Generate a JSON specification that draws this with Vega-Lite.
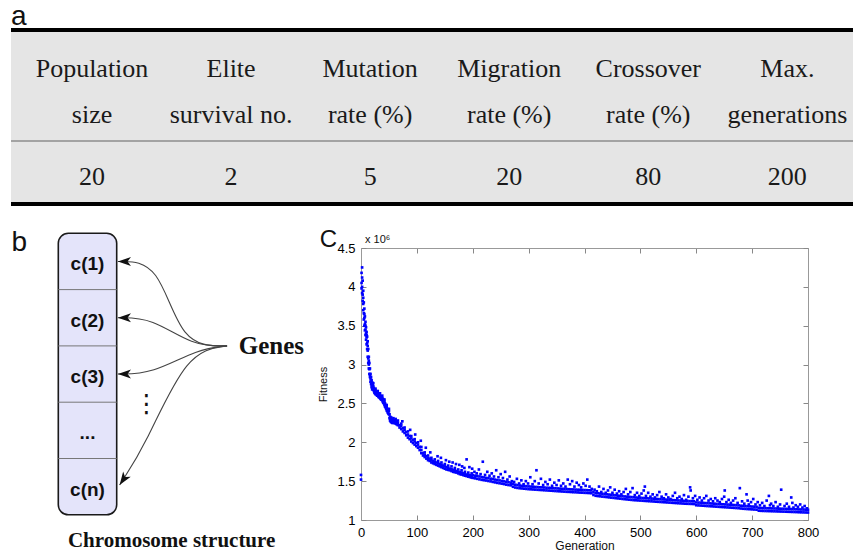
{
  "$schema": "https://vega.github.io/schema/vega-lite/v6.json",
  "background": "white",
  "width": 853,
  "height": 552,
  "autosize": {"type": "none"},
  "padding": 0,
  "config": {
    "view": {"stroke": null},
    "axis": {"grid": false, "labelFont": "Liberation Sans", "titleFont": "Liberation Sans"}
  },
  "datasets": {
    "params": [
      {"param": "Population size", "line1": "Population", "line2": "size", "value": 20},
      {"param": "Elite survival no.", "line1": "Elite", "line2": "survival no.", "value": 2},
      {"param": "Mutation rate (%)", "line1": "Mutation", "line2": "rate (%)", "value": 5},
      {"param": "Migration rate (%)", "line1": "Migration", "line2": "rate (%)", "value": 20},
      {"param": "Crossover rate (%)", "line1": "Crossover", "line2": "rate (%)", "value": 80},
      {"param": "Max. generations", "line1": "Max.", "line2": "generations", "value": 200}
    ],
    "cells": [
      {"gene": "c(1)", "slot": 1},
      {"gene": "c(2)", "slot": 2},
      {"gene": "c(3)", "slot": 3},
      {"gene": "...", "slot": 4},
      {"gene": "c(n)", "slot": 5}
    ],
    "dividers": [
      {"boundary": 1.5}, {"boundary": 2.5}, {"boundary": 3.5}, {"boundary": 4.5}
    ],
    "arrows": [
      {"gene": "c(1)", "k": 0, "x": 2.89, "y": 2.5}, {"gene": "c(1)", "k": 1, "x": 2.1, "y": 2.5}, {"gene": "c(1)", "k": 2, "x": 1.72, "y": 1.0}, {"gene": "c(1)", "k": 3, "x": 1.02, "y": 1.0},
      {"gene": "c(2)", "k": 0, "x": 2.89, "y": 2.5}, {"gene": "c(2)", "k": 1, "x": 2.3, "y": 2.5}, {"gene": "c(2)", "k": 2, "x": 1.6, "y": 2.0}, {"gene": "c(2)", "k": 3, "x": 1.02, "y": 2.0},
      {"gene": "c(3)", "k": 0, "x": 2.89, "y": 2.5}, {"gene": "c(3)", "k": 1, "x": 2.4, "y": 2.55}, {"gene": "c(3)", "k": 2, "x": 1.6, "y": 3.0}, {"gene": "c(3)", "k": 3, "x": 1.02, "y": 3.0},
      {"gene": "c(n)", "k": 0, "x": 2.89, "y": 2.5}, {"gene": "c(n)", "k": 1, "x": 2.2, "y": 2.6}, {"gene": "c(n)", "k": 2, "x": 1.5, "y": 4.25}, {"gene": "c(n)", "k": 3, "x": 1.05, "y": 4.97}
    ],
    "fitness": [
      {"g":0,"f":1.52},{"g":0,"f":1.58},
      {"g":1,"f":4.18},{"g":1,"f":4.05},{"g":1,"f":3.98},
      {"g":2,"f":4.25},{"g":2,"f":4.12},{"g":2,"f":3.92},{"g":2,"f":4.0},
      {"g":3,"f":4.08},{"g":3,"f":3.9},{"g":3,"f":3.82},
      {"g":4,"f":3.95},{"g":4,"f":3.78},{"g":4,"f":3.7},{"g":4,"f":3.86},
      {"g":5,"f":3.8},{"g":5,"f":3.66},{"g":5,"f":3.58},
      {"g":6,"f":3.72},{"g":6,"f":3.6},{"g":6,"f":3.5},{"g":6,"f":3.65},
      {"g":7,"f":3.62},{"g":7,"f":3.52},{"g":7,"f":3.44},
      {"g":8,"f":3.55},{"g":8,"f":3.45},{"g":8,"f":3.38},{"g":8,"f":3.5},
      {"g":9,"f":3.48},{"g":9,"f":3.4},{"g":9,"f":3.32},
      {"g":10,"f":3.42},{"g":10,"f":3.35},{"g":10,"f":3.26},{"g":10,"f":3.38},
      {"g":11,"f":3.36},{"g":11,"f":3.28},{"g":11,"f":3.2},
      {"g":12,"f":3.3},{"g":12,"f":3.18},{"g":12,"f":3.1},{"g":12,"f":3.24},
      {"g":13,"f":3.2},{"g":13,"f":3.08},{"g":13,"f":3.02},
      {"g":14,"f":3.1},{"g":14,"f":3.0},{"g":14,"f":2.95},{"g":14,"f":3.05},
      {"g":15,"f":3.02},{"g":15,"f":2.94},{"g":15,"f":2.88},
      {"g":16,"f":2.95},{"g":16,"f":2.87},{"g":16,"f":2.84},
      {"g":17,"f":2.88},{"g":17,"f":2.82},{"g":17,"f":2.78},
      {"g":18,"f":2.84},{"g":18,"f":2.78},{"g":18,"f":2.75},
      {"g":19,"f":2.8},{"g":19,"f":2.74},{"g":19,"f":2.71},
      {"g":20,"f":2.77},{"g":20,"f":2.71},{"g":20,"f":2.68},
      {"g":21,"f":2.74},{"g":21,"f":2.69},
      {"g":22,"f":2.72},{"g":22,"f":2.68},{"g":22,"f":2.76},
      {"g":23,"f":2.7},{"g":23,"f":2.66},
      {"g":24,"f":2.68},{"g":24,"f":2.64},
      {"g":25,"f":2.67},{"g":25,"f":2.63},
      {"g":26,"f":2.66},{"g":26,"f":2.62},{"g":26,"f":2.69},
      {"g":27,"f":2.65},{"g":27,"f":2.62},
      {"g":28,"f":2.64},{"g":28,"f":2.61},
      {"g":29,"f":2.63},{"g":29,"f":2.6},
      {"g":30,"f":2.63},{"g":30,"f":2.6},{"g":30,"f":2.66},
      {"g":31,"f":2.62},{"g":31,"f":2.59},
      {"g":32,"f":2.62},{"g":32,"f":2.58},
      {"g":33,"f":2.61},{"g":33,"f":2.58},
      {"g":34,"f":2.6},{"g":34,"f":2.57},{"g":34,"f":2.63},
      {"g":35,"f":2.59},{"g":35,"f":2.56},
      {"g":36,"f":2.58},{"g":36,"f":2.55},
      {"g":37,"f":2.58},{"g":37,"f":2.55},
      {"g":38,"f":2.57},{"g":38,"f":2.54},{"g":38,"f":2.6},
      {"g":39,"f":2.56},{"g":39,"f":2.52},
      {"g":40,"f":2.55},{"g":40,"f":2.51},
      {"g":41,"f":2.53},{"g":41,"f":2.5},
      {"g":42,"f":2.52},{"g":42,"f":2.48},{"g":42,"f":2.55},
      {"g":43,"f":2.5},{"g":43,"f":2.46},
      {"g":44,"f":2.48},{"g":44,"f":2.45},
      {"g":45,"f":2.46},{"g":45,"f":2.43},
      {"g":46,"f":2.45},{"g":46,"f":2.41},{"g":46,"f":2.48},
      {"g":47,"f":2.43},{"g":47,"f":2.4},
      {"g":48,"f":2.42},{"g":48,"f":2.38},
      {"g":49,"f":2.41},{"g":49,"f":2.37},
      {"g":50,"f":2.4},{"g":50,"f":2.36},{"g":50,"f":2.43},
      {"g":51,"f":2.36},{"g":51,"f":2.31},
      {"g":52,"f":2.33},{"g":52,"f":2.28},
      {"g":53,"f":2.3},{"g":53,"f":2.27},
      {"g":54,"f":2.29},{"g":54,"f":2.26},{"g":54,"f":2.32},
      {"g":55,"f":2.29},{"g":55,"f":2.26},
      {"g":56,"f":2.28},{"g":56,"f":2.25},
      {"g":57,"f":2.28},{"g":57,"f":2.25},
      {"g":58,"f":2.29},{"g":58,"f":2.26},{"g":58,"f":2.31},
      {"g":59,"f":2.28},{"g":59,"f":2.25},
      {"g":60,"f":2.28},{"g":60,"f":2.25},
      {"g":62,"f":2.27},{"g":62,"f":2.24},{"g":62,"f":2.3},
      {"g":64,"f":2.26},{"g":64,"f":2.23},
      {"g":66,"f":2.25},{"g":66,"f":2.22},{"g":66,"f":2.28},
      {"g":69,"f":2.22},{"g":69,"f":2.19},
      {"g":72,"f":2.21},{"g":72,"f":2.17},{"g":72,"f":2.24},
      {"g":75,"f":2.18},{"g":75,"f":2.14},
      {"g":78,"f":2.16},{"g":78,"f":2.12},{"g":78,"f":2.19},
      {"g":81,"f":2.13},{"g":81,"f":2.09},
      {"g":84,"f":2.1},{"g":84,"f":2.06},{"g":84,"f":2.14},
      {"g":87,"f":2.08},{"g":87,"f":2.04},
      {"g":90,"f":2.05},{"g":90,"f":2.01},{"g":90,"f":2.08},
      {"g":93,"f":2.03},{"g":93,"f":1.99},
      {"g":96,"f":2.01},{"g":96,"f":1.97},{"g":96,"f":2.04},
      {"g":99,"f":1.99},{"g":99,"f":1.95},
      {"g":102,"f":1.97},{"g":102,"f":1.93},{"g":102,"f":2.0},
      {"g":105,"f":1.94},{"g":105,"f":1.9},
      {"g":108,"f":1.9},{"g":108,"f":1.86},{"g":108,"f":1.94},
      {"g":111,"f":1.86},{"g":111,"f":1.83},
      {"g":114,"f":1.84},{"g":114,"f":1.81},{"g":114,"f":1.87},
      {"g":117,"f":1.82},{"g":117,"f":1.79},
      {"g":120,"f":1.8},{"g":120,"f":1.77},{"g":120,"f":1.83},
      {"g":123,"f":1.79},{"g":123,"f":1.76},
      {"g":126,"f":1.77},{"g":126,"f":1.74},{"g":126,"f":1.8},
      {"g":129,"f":1.76},{"g":129,"f":1.73},
      {"g":132,"f":1.75},{"g":132,"f":1.72},{"g":132,"f":1.78},
      {"g":135,"f":1.74},{"g":135,"f":1.71},
      {"g":138,"f":1.73},{"g":138,"f":1.7},{"g":138,"f":1.76},
      {"g":141,"f":1.72},{"g":141,"f":1.69},
      {"g":144,"f":1.71},{"g":144,"f":1.68},{"g":144,"f":1.74},
      {"g":147,"f":1.7},{"g":147,"f":1.67},
      {"g":150,"f":1.69},{"g":150,"f":1.66},{"g":150,"f":1.72},
      {"g":153,"f":1.68},{"g":153,"f":1.65},
      {"g":156,"f":1.67},{"g":156,"f":1.645},{"g":156,"f":1.7},
      {"g":159,"f":1.66},{"g":159,"f":1.64},
      {"g":162,"f":1.655},{"g":162,"f":1.63},{"g":162,"f":1.69},
      {"g":165,"f":1.645},{"g":165,"f":1.62},
      {"g":168,"f":1.64},{"g":168,"f":1.615},{"g":168,"f":1.67},
      {"g":171,"f":1.63},{"g":171,"f":1.61},
      {"g":174,"f":1.62},{"g":174,"f":1.6},{"g":174,"f":1.65},
      {"g":177,"f":1.615},{"g":177,"f":1.59},
      {"g":180,"f":1.61},{"g":180,"f":1.585},{"g":180,"f":1.64},
      {"g":183,"f":1.6},{"g":183,"f":1.578},
      {"g":186,"f":1.59},{"g":186,"f":1.57},{"g":186,"f":1.62},
      {"g":189,"f":1.585},{"g":189,"f":1.565},
      {"g":192,"f":1.58},{"g":192,"f":1.558},{"g":192,"f":1.61},
      {"g":195,"f":1.575},{"g":195,"f":1.552},
      {"g":198,"f":1.57},{"g":198,"f":1.546},{"g":198,"f":1.6},
      {"g":74,"f":2.27},{"g":88,"f":2.16},{"g":97,"f":2.1},{"g":107,"f":2.02},{"g":116,"f":1.93},{"g":124,"f":1.87},
      {"g":137,"f":1.82},{"g":143,"f":1.8},{"g":152,"f":1.77},{"g":158,"f":1.75},{"g":164,"f":1.74},{"g":170,"f":1.72},
      {"g":176,"f":1.71},{"g":181,"f":1.69},{"g":185,"f":1.67},{"g":189,"f":1.78},{"g":194,"f":1.68},{"g":199,"f":1.66},
      {"g":200,"f":1.542},{"g":200,"f":1.578},{"g":204,"f":1.536},{"g":204,"f":1.57},{"g":208,"f":1.53},{"g":208,"f":1.566},
      {"g":212,"f":1.523},{"g":212,"f":1.56},{"g":216,"f":1.517},{"g":216,"f":1.552},{"g":220,"f":1.512},{"g":220,"f":1.548},
      {"g":224,"f":1.508},{"g":224,"f":1.541},{"g":228,"f":1.502},{"g":228,"f":1.538},{"g":232,"f":1.497},{"g":232,"f":1.532},
      {"g":236,"f":1.49},{"g":236,"f":1.527},{"g":240,"f":1.484},{"g":240,"f":1.52},{"g":244,"f":1.478},{"g":244,"f":1.512},
      {"g":248,"f":1.473},{"g":248,"f":1.509},{"g":252,"f":1.468},{"g":252,"f":1.502},{"g":256,"f":1.462},{"g":256,"f":1.497},
      {"g":260,"f":1.455},{"g":260,"f":1.49},{"g":264,"f":1.45},{"g":264,"f":1.486},{"g":268,"f":1.446},{"g":268,"f":1.48},
      {"g":272,"f":1.428},{"g":272,"f":1.465},{"g":276,"f":1.418},{"g":276,"f":1.454},{"g":280,"f":1.413},{"g":280,"f":1.449},
      {"g":284,"f":1.409},{"g":284,"f":1.443},{"g":288,"f":1.406},{"g":288,"f":1.44},{"g":292,"f":1.403},{"g":292,"f":1.437},
      {"g":296,"f":1.4},{"g":296,"f":1.434},{"g":300,"f":1.397},{"g":300,"f":1.432},{"g":304,"f":1.395},{"g":304,"f":1.43},
      {"g":308,"f":1.393},{"g":308,"f":1.428},{"g":312,"f":1.391},{"g":312,"f":1.425},{"g":316,"f":1.389},{"g":316,"f":1.424},
      {"g":320,"f":1.387},{"g":320,"f":1.421},{"g":324,"f":1.385},{"g":324,"f":1.42},{"g":328,"f":1.383},{"g":328,"f":1.418},
      {"g":332,"f":1.381},{"g":332,"f":1.415},{"g":336,"f":1.379},{"g":336,"f":1.414},{"g":340,"f":1.377},{"g":340,"f":1.412},
      {"g":344,"f":1.375},{"g":344,"f":1.41},{"g":348,"f":1.373},{"g":348,"f":1.408},{"g":352,"f":1.371},{"g":352,"f":1.406},
      {"g":356,"f":1.369},{"g":356,"f":1.404},{"g":360,"f":1.367},{"g":360,"f":1.402},{"g":364,"f":1.365},{"g":364,"f":1.4},
      {"g":368,"f":1.363},{"g":368,"f":1.398},{"g":372,"f":1.362},{"g":372,"f":1.396},{"g":376,"f":1.36},{"g":376,"f":1.394},
      {"g":380,"f":1.358},{"g":380,"f":1.393},{"g":384,"f":1.357},{"g":384,"f":1.391},{"g":388,"f":1.355},{"g":388,"f":1.39},
      {"g":392,"f":1.353},{"g":392,"f":1.388},{"g":396,"f":1.352},{"g":396,"f":1.386},{"g":400,"f":1.35},{"g":400,"f":1.385},
      {"g":404,"f":1.349},{"g":404,"f":1.384},{"g":408,"f":1.347},{"g":408,"f":1.382},{"g":412,"f":1.345},{"g":412,"f":1.38},
      {"g":416,"f":1.322},{"g":416,"f":1.358},{"g":420,"f":1.312},{"g":420,"f":1.348},{"g":424,"f":1.308},{"g":424,"f":1.344},
      {"g":428,"f":1.305},{"g":428,"f":1.34},{"g":432,"f":1.301},{"g":432,"f":1.337},{"g":436,"f":1.298},{"g":436,"f":1.333},
      {"g":440,"f":1.295},{"g":440,"f":1.33},{"g":444,"f":1.291},{"g":444,"f":1.327},{"g":448,"f":1.288},{"g":448,"f":1.323},
      {"g":452,"f":1.285},{"g":452,"f":1.32},{"g":456,"f":1.281},{"g":456,"f":1.317},{"g":460,"f":1.278},{"g":460,"f":1.313},
      {"g":464,"f":1.275},{"g":464,"f":1.31},{"g":468,"f":1.271},{"g":468,"f":1.307},{"g":472,"f":1.268},{"g":472,"f":1.303},
      {"g":476,"f":1.265},{"g":476,"f":1.3},{"g":480,"f":1.262},{"g":480,"f":1.297},{"g":484,"f":1.259},{"g":484,"f":1.295},
      {"g":488,"f":1.256},{"g":488,"f":1.292},{"g":492,"f":1.254},{"g":492,"f":1.289},{"g":496,"f":1.252},{"g":496,"f":1.287},
      {"g":500,"f":1.25},{"g":500,"f":1.285},{"g":504,"f":1.248},{"g":504,"f":1.283},{"g":508,"f":1.246},{"g":508,"f":1.281},
      {"g":512,"f":1.244},{"g":512,"f":1.279},{"g":516,"f":1.242},{"g":516,"f":1.277},{"g":520,"f":1.24},{"g":520,"f":1.275},
      {"g":524,"f":1.238},{"g":524,"f":1.273},{"g":528,"f":1.236},{"g":528,"f":1.271},{"g":532,"f":1.234},{"g":532,"f":1.269},
      {"g":536,"f":1.232},{"g":536,"f":1.267},{"g":540,"f":1.23},{"g":540,"f":1.265},{"g":544,"f":1.228},{"g":544,"f":1.263},
      {"g":548,"f":1.226},{"g":548,"f":1.261},{"g":552,"f":1.224},{"g":552,"f":1.259},{"g":556,"f":1.222},{"g":556,"f":1.257},
      {"g":560,"f":1.22},{"g":560,"f":1.255},{"g":564,"f":1.218},{"g":564,"f":1.253},{"g":568,"f":1.216},{"g":568,"f":1.251},
      {"g":572,"f":1.214},{"g":572,"f":1.249},{"g":576,"f":1.212},{"g":576,"f":1.247},{"g":580,"f":1.21},{"g":580,"f":1.245},
      {"g":584,"f":1.209},{"g":584,"f":1.244},{"g":588,"f":1.208},{"g":588,"f":1.243},{"g":592,"f":1.207},{"g":592,"f":1.242},
      {"g":596,"f":1.205},{"g":596,"f":1.24},{"g":600,"f":1.19},{"g":600,"f":1.226},{"g":604,"f":1.188},{"g":604,"f":1.224},
      {"g":608,"f":1.186},{"g":608,"f":1.222},{"g":612,"f":1.184},{"g":612,"f":1.22},{"g":616,"f":1.182},{"g":616,"f":1.218},
      {"g":620,"f":1.18},{"g":620,"f":1.216},{"g":624,"f":1.178},{"g":624,"f":1.214},{"g":628,"f":1.176},{"g":628,"f":1.212},
      {"g":632,"f":1.174},{"g":632,"f":1.21},{"g":636,"f":1.172},{"g":636,"f":1.208},{"g":640,"f":1.17},{"g":640,"f":1.206},
      {"g":644,"f":1.168},{"g":644,"f":1.204},{"g":648,"f":1.166},{"g":648,"f":1.202},{"g":652,"f":1.164},{"g":652,"f":1.2},
      {"g":656,"f":1.162},{"g":656,"f":1.198},{"g":660,"f":1.16},{"g":660,"f":1.196},{"g":664,"f":1.158},{"g":664,"f":1.194},
      {"g":668,"f":1.156},{"g":668,"f":1.192},{"g":672,"f":1.154},{"g":672,"f":1.19},{"g":676,"f":1.152},{"g":676,"f":1.188},
      {"g":680,"f":1.148},{"g":680,"f":1.184},{"g":684,"f":1.145},{"g":684,"f":1.181},{"g":688,"f":1.143},{"g":688,"f":1.179},
      {"g":692,"f":1.141},{"g":692,"f":1.177},{"g":696,"f":1.139},{"g":696,"f":1.175},{"g":700,"f":1.137},{"g":700,"f":1.173},
      {"g":704,"f":1.135},{"g":704,"f":1.171},{"g":708,"f":1.133},{"g":708,"f":1.169},{"g":712,"f":1.12},{"g":712,"f":1.156},
      {"g":716,"f":1.118},{"g":716,"f":1.154},{"g":720,"f":1.117},{"g":720,"f":1.153},{"g":724,"f":1.116},{"g":724,"f":1.152},
      {"g":728,"f":1.115},{"g":728,"f":1.151},{"g":732,"f":1.114},{"g":732,"f":1.15},{"g":736,"f":1.113},{"g":736,"f":1.149},
      {"g":740,"f":1.112},{"g":740,"f":1.148},{"g":744,"f":1.111},{"g":744,"f":1.147},{"g":748,"f":1.11},{"g":748,"f":1.146},
      {"g":752,"f":1.109},{"g":752,"f":1.145},{"g":756,"f":1.108},{"g":756,"f":1.144},{"g":760,"f":1.107},{"g":760,"f":1.143},
      {"g":764,"f":1.106},{"g":764,"f":1.142},{"g":768,"f":1.105},{"g":768,"f":1.141},{"g":772,"f":1.104},{"g":772,"f":1.14},
      {"g":776,"f":1.103},{"g":776,"f":1.139},{"g":780,"f":1.102},{"g":780,"f":1.138},{"g":784,"f":1.1},{"g":784,"f":1.136},
      {"g":788,"f":1.099},{"g":788,"f":1.135},{"g":792,"f":1.098},{"g":792,"f":1.134},{"g":796,"f":1.097},{"g":796,"f":1.133},
      {"g":800,"f":1.096},{"g":800,"f":1.132},
      {"g":203,"f":1.62},{"g":207,"f":1.6},{"g":211,"f":1.65},{"g":214,"f":1.59},{"g":218,"f":1.75},{"g":222,"f":1.58},
      {"g":226,"f":1.62},{"g":230,"f":1.57},{"g":234,"f":1.6},{"g":238,"f":1.56},{"g":242,"f":1.64},{"g":246,"f":1.55},
      {"g":250,"f":1.59},{"g":254,"f":1.54},{"g":258,"f":1.62},{"g":262,"f":1.52},{"g":266,"f":1.56},{"g":270,"f":1.5},
      {"g":274,"f":1.49},{"g":279,"f":1.53},{"g":283,"f":1.47},{"g":287,"f":1.51},{"g":291,"f":1.46},{"g":295,"f":1.5},
      {"g":299,"f":1.47},{"g":303,"f":1.55},{"g":307,"f":1.46},{"g":311,"f":1.5},{"g":314,"f":1.64},{"g":318,"f":1.47},
      {"g":322,"f":1.53},{"g":326,"f":1.45},{"g":330,"f":1.49},{"g":334,"f":1.46},{"g":338,"f":1.52},{"g":342,"f":1.44},
      {"g":346,"f":1.48},{"g":350,"f":1.45},{"g":354,"f":1.51},{"g":358,"f":1.44},{"g":362,"f":1.47},{"g":366,"f":1.43},
      {"g":370,"f":1.52},{"g":374,"f":1.46},{"g":378,"f":1.5},{"g":382,"f":1.43},{"g":386,"f":1.48},{"g":390,"f":1.45},
      {"g":394,"f":1.42},{"g":398,"f":1.47},{"g":402,"f":1.44},{"g":405,"f":1.52},{"g":409,"f":1.43},{"g":413,"f":1.4},
      {"g":418,"f":1.39},{"g":422,"f":1.37},{"g":426,"f":1.43},{"g":430,"f":1.36},{"g":434,"f":1.4},{"g":438,"f":1.35},
      {"g":442,"f":1.38},{"g":446,"f":1.42},{"g":450,"f":1.35},{"g":454,"f":1.39},{"g":458,"f":1.34},{"g":462,"f":1.37},
      {"g":466,"f":1.33},{"g":470,"f":1.36},{"g":474,"f":1.4},{"g":478,"f":1.33},{"g":482,"f":1.36},{"g":486,"f":1.41},
      {"g":490,"f":1.32},{"g":494,"f":1.35},{"g":498,"f":1.31},{"g":502,"f":1.34},{"g":506,"f":1.38},{"g":508,"f":1.43},
      {"g":510,"f":1.31},{"g":514,"f":1.35},{"g":518,"f":1.3},{"g":522,"f":1.33},{"g":526,"f":1.29},{"g":530,"f":1.32},
      {"g":534,"f":1.36},{"g":538,"f":1.3},{"g":542,"f":1.28},{"g":546,"f":1.33},{"g":550,"f":1.29},{"g":554,"f":1.27},
      {"g":558,"f":1.31},{"g":562,"f":1.35},{"g":566,"f":1.28},{"g":570,"f":1.3},{"g":574,"f":1.27},{"g":578,"f":1.32},
      {"g":582,"f":1.26},{"g":586,"f":1.3},{"g":589,"f":1.42},{"g":590,"f":1.38},{"g":594,"f":1.28},{"g":598,"f":1.31},
      {"g":602,"f":1.26},{"g":606,"f":1.29},{"g":610,"f":1.25},{"g":614,"f":1.28},{"g":618,"f":1.31},{"g":622,"f":1.25},
      {"g":626,"f":1.27},{"g":630,"f":1.24},{"g":634,"f":1.28},{"g":638,"f":1.25},{"g":642,"f":1.23},{"g":646,"f":1.27},
      {"g":650,"f":1.3},{"g":651,"f":1.38},{"g":654,"f":1.23},{"g":658,"f":1.26},{"g":662,"f":1.22},{"g":666,"f":1.25},
      {"g":670,"f":1.28},{"g":674,"f":1.22},{"g":678,"f":1.41},{"g":682,"f":1.24},{"g":686,"f":1.21},{"g":690,"f":1.33},
      {"g":692,"f":1.25},{"g":694,"f":1.2},{"g":698,"f":1.23},{"g":702,"f":1.27},{"g":706,"f":1.2},{"g":710,"f":1.23},
      {"g":714,"f":1.19},{"g":718,"f":1.22},{"g":722,"f":1.18},{"g":726,"f":1.25},{"g":730,"f":1.31},{"g":732,"f":1.19},
      {"g":734,"f":1.21},{"g":738,"f":1.18},{"g":742,"f":1.23},{"g":746,"f":1.17},{"g":750,"f":1.2},{"g":752,"f":1.39},
      {"g":758,"f":1.18},{"g":762,"f":1.21},{"g":766,"f":1.17},{"g":770,"f":1.29},{"g":772,"f":1.22},{"g":774,"f":1.16},
      {"g":778,"f":1.19},{"g":782,"f":1.17},{"g":786,"f":1.2},{"g":790,"f":1.16},{"g":794,"f":1.18},{"g":798,"f":1.15}
    ]
  },
  "layer": [
    {
      "layer": [
        {
          "data": {"values": [{"part": "table"}]},
          "mark": {"type": "rect", "fill": "#e5e5e5"},
          "encoding": {
            "x": {"datum": 0, "type": "quantitative", "scale": {"domain": [0, 1], "range": [11, 853]}, "axis": null},
            "x2": {"datum": 1},
            "y": {"datum": 0, "type": "quantitative", "scale": {"domain": [0, 3.78], "range": [30, 204], "nice": false, "zero": false}, "axis": null},
            "y2": {"datum": 3.78}
          }
        },
        {
          "data": {"values": [{"part": "top rule"}]},
          "mark": {"type": "rule", "color": "#000", "strokeWidth": 4},
          "encoding": {
            "x": {"datum": 0, "type": "quantitative", "scale": {"domain": [0, 1], "range": [11, 853]}, "axis": null},
            "x2": {"datum": 1},
            "y": {"datum": 0, "type": "quantitative", "axis": null}
          }
        },
        {
          "data": {"values": [{"part": "header rule"}]},
          "mark": {"type": "rule", "color": "#8c8c8c", "strokeWidth": 1.5},
          "encoding": {
            "x": {"datum": 0, "type": "quantitative", "scale": {"domain": [0, 1], "range": [11, 853]}, "axis": null},
            "x2": {"datum": 1},
            "y": {"datum": 2.41, "type": "quantitative", "axis": null}
          }
        },
        {
          "data": {"values": [{"part": "bottom rule"}]},
          "mark": {"type": "rule", "color": "#000", "strokeWidth": 4},
          "encoding": {
            "x": {"datum": 0, "type": "quantitative", "scale": {"domain": [0, 1], "range": [11, 853]}, "axis": null},
            "x2": {"datum": 1},
            "y": {"datum": 3.78, "type": "quantitative", "axis": null}
          }
        },
        {
          "data": {"values": [{"label": "a"}]},
          "mark": {"type": "text", "font": "Liberation Sans", "fontSize": 28, "align": "left", "baseline": "alphabetic", "color": "#111"},
          "encoding": {
            "x": {"datum": 0, "type": "quantitative", "scale": {"domain": [0, 1], "range": [11, 853]}, "axis": null},
            "y": {"datum": -0.11, "type": "quantitative", "axis": null},
            "text": {"field": "label"}
          }
        },
        {
          "data": {"name": "params"},
          "mark": {"type": "text", "font": "Liberation Serif", "fontSize": 26, "baseline": "alphabetic", "color": "#1a1a1a"},
          "encoding": {
            "x": {"field": "param", "type": "nominal", "sort": null, "scale": {"type": "point", "range": [11, 851], "padding": 0.52, "align": 0.56}, "axis": null},
            "y": {"datum": 1.02, "type": "quantitative", "axis": null},
            "text": {"field": "line1"}
          }
        },
        {
          "data": {"name": "params"},
          "mark": {"type": "text", "font": "Liberation Serif", "fontSize": 26, "baseline": "alphabetic", "color": "#1a1a1a"},
          "encoding": {
            "x": {"field": "param", "type": "nominal", "sort": null, "scale": {"type": "point", "range": [11, 851], "padding": 0.52, "align": 0.56}, "axis": null},
            "y": {"datum": 2.02, "type": "quantitative", "axis": null},
            "text": {"field": "line2"}
          }
        },
        {
          "data": {"name": "params"},
          "mark": {"type": "text", "font": "Liberation Serif", "fontSize": 26, "baseline": "alphabetic", "color": "#1a1a1a"},
          "encoding": {
            "x": {"field": "param", "type": "nominal", "sort": null, "scale": {"type": "point", "range": [11, 851], "padding": 0.52, "align": 0.56}, "axis": null},
            "y": {"datum": 3.37, "type": "quantitative", "axis": null},
            "text": {"field": "value", "type": "quantitative"}
          }
        }
      ],
      "resolve": {"scale": {"x": "independent"}}
    },
    {
      "layer": [
        {
          "data": {"values": [{"part": "chromosome"}]},
          "mark": {"type": "rect", "fill": "#e4e4fa", "stroke": "#1a1a1a", "strokeWidth": 1.6, "cornerRadius": 10},
          "encoding": {
            "x": {"datum": 0, "type": "quantitative", "scale": {"domain": [0, 1], "range": [58.3, 116.7], "nice": false, "zero": false}, "axis": null},
            "x2": {"datum": 1},
            "y": {"datum": 0.5, "type": "quantitative", "scale": {"domain": [0.5, 5.5], "range": [233.3, 514.8], "nice": false, "zero": false}, "axis": null},
            "y2": {"datum": 5.5}
          }
        },
        {
          "data": {"name": "dividers"},
          "mark": {"type": "rule", "color": "#777", "strokeWidth": 1},
          "encoding": {
            "x": {"datum": 0, "type": "quantitative", "axis": null},
            "x2": {"datum": 1},
            "y": {"field": "boundary", "type": "quantitative", "axis": null}
          }
        },
        {
          "data": {"name": "cells"},
          "mark": {"type": "text", "font": "Liberation Sans", "fontWeight": "bold", "fontSize": 19, "baseline": "middle", "align": "center", "dy": 3, "color": "#111"},
          "encoding": {
            "x": {"datum": 0.5, "type": "quantitative", "axis": null},
            "y": {"field": "slot", "type": "quantitative", "axis": null},
            "text": {"field": "gene"}
          }
        },
        {
          "data": {"name": "arrows"},
          "mark": {"type": "line", "interpolate": "basis", "color": "#444", "strokeWidth": 1.1},
          "encoding": {
            "x": {"field": "x", "type": "quantitative", "axis": null},
            "y": {"field": "y", "type": "quantitative", "axis": null},
            "detail": {"field": "gene"},
            "order": {"field": "k"}
          }
        },
        {
          "data": {"name": "arrows"},
          "transform": [{"filter": "datum.k === 3"}],
          "mark": {"type": "point", "shape": "M0,0L2.3,-0.8L1.7,0L2.3,0.8Z", "filled": true, "color": "#111", "opacity": 1, "size": 130},
          "encoding": {
            "x": {"field": "x", "type": "quantitative", "axis": null},
            "y": {"field": "y", "type": "quantitative", "axis": null},
            "angle": {"condition": {"test": "datum.gene === 'c(n)'", "value": -56}, "value": 0}
          }
        },
        {
          "data": {"values": [{"label": "Genes"}]},
          "mark": {"type": "text", "font": "Liberation Serif", "fontWeight": "bold", "fontSize": 25, "align": "left", "baseline": "middle", "color": "#111"},
          "encoding": {
            "x": {"datum": 3.09, "type": "quantitative", "axis": null},
            "y": {"datum": 2.5, "type": "quantitative", "axis": null},
            "text": {"field": "label"}
          }
        },
        {
          "data": {"values": [{"label": "⋮"}]},
          "mark": {"type": "text", "font": "DejaVu Sans", "fontWeight": "normal", "fontSize": 25, "align": "center", "baseline": "middle", "color": "#111"},
          "encoding": {
            "x": {"datum": 1.51, "type": "quantitative", "axis": null},
            "y": {"datum": 3.53, "type": "quantitative", "axis": null},
            "text": {"field": "label"}
          }
        },
        {
          "data": {"values": [{"label": "Chromosome structure"}]},
          "mark": {"type": "text", "font": "Liberation Serif", "fontWeight": "bold", "fontSize": 21, "align": "center", "baseline": "alphabetic", "color": "#111"},
          "encoding": {
            "x": {"datum": 1.94, "type": "quantitative", "axis": null},
            "y": {"datum": 6.07, "type": "quantitative", "axis": null},
            "text": {"field": "label"}
          }
        },
        {
          "data": {"values": [{"label": "b"}]},
          "mark": {"type": "text", "font": "Liberation Sans", "fontSize": 28, "align": "left", "baseline": "alphabetic", "color": "#111"},
          "encoding": {
            "x": {"datum": -0.8, "type": "quantitative", "axis": null},
            "y": {"datum": 0.814, "type": "quantitative", "axis": null},
            "text": {"field": "label"}
          }
        }
      ]
    },
    {
      "layer": [
        {
          "data": {"name": "fitness"},
          "mark": {"type": "point", "shape": "square", "filled": true, "size": 7, "color": "#0000ff", "opacity": 1},
          "encoding": {
            "x": {"field": "g", "type": "quantitative",
                  "scale": {"domain": [0, 800], "range": [361, 808], "nice": false, "zero": false},
                  "axis": {"orient": "bottom", "offset": -32, "values": [0, 100, 200, 300, 400, 500, 600, 700, 800], "tickSize": -5, "tickColor": "#888", "domainColor": "#999",
                           "labelFontSize": 13, "labelColor": "#000", "labelPadding": 11, "labelFlush": false,
                           "title": "Generation", "titleFontSize": 12, "titleFontWeight": "normal", "titleColor": "#111", "titlePadding": 1}},
            "y": {"field": "f", "type": "quantitative",
                  "scale": {"domain": [1, 4.5], "range": [520, 248], "nice": false, "zero": false},
                  "axis": {"orient": "left", "offset": -361, "values": [1, 1.5, 2, 2.5, 3, 3.5, 4, 4.5], "format": "~g", "tickSize": -5, "tickColor": "#888", "domainColor": "#999",
                           "labelFontSize": 13, "labelColor": "#000", "labelPadding": 11, "labelFlush": false,
                           "title": "Fitness", "titleFontSize": 11, "titleFontWeight": "normal", "titleColor": "#111", "titlePadding": 8}}
          }
        },
        {
          "data": {"values": [{"note": "x 10⁶"}]},
          "mark": {"type": "text", "align": "left", "baseline": "alphabetic", "dx": 4, "dy": -5, "fontSize": 11, "font": "Liberation Sans", "color": "#111"},
          "encoding": {
            "x": {"datum": 0, "type": "quantitative",
                  "axis": {"orient": "top", "offset": -248, "values": [0, 100, 200, 300, 400, 500, 600, 700, 800], "labels": false, "tickSize": -5, "tickColor": "#888", "domainColor": "#999", "title": null}},
            "y": {"datum": 4.5, "type": "quantitative",
                  "axis": {"orient": "right", "offset": -45, "values": [1, 1.5, 2, 2.5, 3, 3.5, 4, 4.5], "labels": false, "tickSize": -5, "tickColor": "#888", "domainColor": "#999", "title": null}},
            "text": {"field": "note"}
          }
        },
        {
          "data": {"values": [{"label": "C"}]},
          "mark": {"type": "text", "align": "right", "baseline": "alphabetic", "dx": -24, "dy": -1, "fontSize": 24, "font": "Liberation Sans", "color": "#111"},
          "encoding": {
            "x": {"datum": 0, "type": "quantitative", "axis": null},
            "y": {"datum": 4.5, "type": "quantitative", "axis": null},
            "text": {"field": "label"}
          }
        }
      ],
      "resolve": {"axis": {"x": "independent", "y": "independent"}}
    }
  ],
  "resolve": {"scale": {"x": "independent", "y": "independent"}, "axis": {"x": "independent", "y": "independent"}}
}
